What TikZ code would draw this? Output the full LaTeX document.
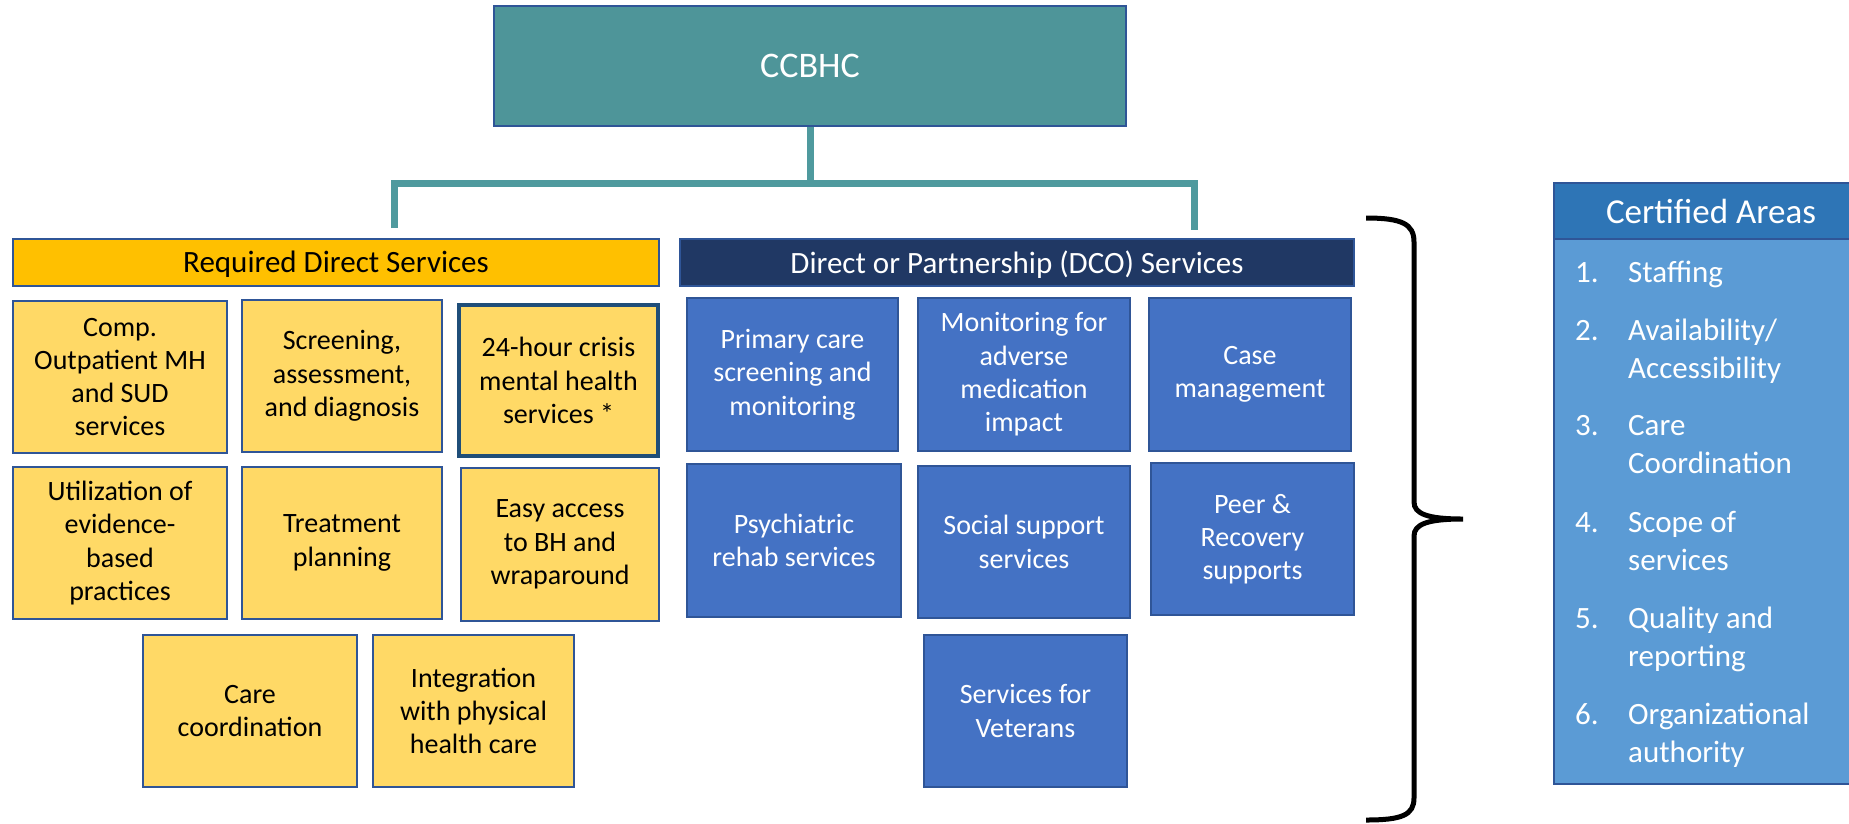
\documentclass[tikz,border=0pt]{standalone}
\usepackage{fontspec}
\setmainfont{Carlito}
\newcommand\svcfont{\fontsize{28}{33.3}\selectfont}
\newcommand\hdrfont{\fontsize{31}{36}\selectfont}
\newcommand\topfont{\fontsize{36}{42}\selectfont}
\newcommand\certhfont{\fontsize{35}{40}\selectfont}
\newcommand\certlfont{\fontsize{31}{38}\selectfont}
\definecolor{teal}{HTML}{4E9599}
\definecolor{tealline}{HTML}{4F9A9E}
\definecolor{edgeblue}{HTML}{2F5597}
\definecolor{darkedge}{HTML}{1F4E79}
\definecolor{gold}{HTML}{FFC000}
\definecolor{paleyellow}{HTML}{FFD966}
\definecolor{navy}{HTML}{203864}
\definecolor{midblue}{HTML}{4472C4}
\definecolor{certhead}{HTML}{2E75B6}
\definecolor{certbody}{HTML}{5B9BD5}
\begin{document}
\begin{tikzpicture}[x=1pt,y=-1pt,
  box/.style={draw=edgeblue, line width=2.5pt, inner sep=0pt, align=center, font=\svcfont},
  ybox/.style={box, fill=paleyellow, text=black, minimum width=#1},
  bbox/.style={box, fill=midblue, text=white, minimum width=#1},
  hdr/.style={draw=edgeblue, line width=2pt, inner sep=0pt, font=\hdrfont, minimum height=47pt, text depth=1pt},
  conn/.style={draw=tealline, line width=7pt},
  brace/.style={draw=black, line width=5pt},
  listnum/.style={anchor=base west, inner sep=0pt, text=white, font=\certlfont},
  listtxt/.style={anchor=base west, inner sep=0pt, text=white, font=\certlfont}]
\useasboundingbox (0,0) rectangle (1849,823);

% top box
\node[draw=edgeblue, line width=2.5pt, fill=teal, text=white, font=\topfont,
      minimum width=632pt, minimum height=120pt, inner sep=0pt] (ccbhc) at (810,66) {CCBHC};

% section headers
\node[hdr, fill=gold, text=black, minimum width=646pt] (req) at (336,262.5) {Required Direct Services};
\node[hdr, fill=navy, text=white, minimum width=674pt] (dco) at (1017,262.5) {Direct or Partnership (DCO) Services};

% connectors from the top box to the two sections
\coordinate (barL) at (394,183);
\coordinate (barR) at (1194,183);
\coordinate (reqend) at (394,228);
\coordinate (dcoend) at (1194,230);
\draw[conn] (ccbhc.south) -- (ccbhc.south |- barL);
\draw[conn, line join=miter] (reqend) -- (barL) -- (barR) -- (dcoend);

% required direct services
\node[ybox=214pt, minimum height=152pt] (comp) at (120,377) {Comp.\\Outpatient MH\\and SUD\\services};
\node[ybox=200pt, minimum height=152pt] (screen) at (342,376) {Screening,\\assessment,\\and diagnosis};
\node[ybox=199pt, minimum height=151pt, draw=darkedge, line width=4pt] (crisis) at (558.5,380.5) {24-hour crisis\\mental health\\services *};
\node[ybox=214pt, minimum height=152pt] (util) at (120,543) {Utilization of\\evidence-\\based\\practices};
\node[ybox=200pt, minimum height=152pt] (treat) at (342,543) {Treatment\\planning};
\node[ybox=198pt, minimum height=153pt] (easy) at (560,544.5) {Easy access\\to BH and\\wraparound};
\node[ybox=214pt, minimum height=152pt] (care) at (250,711) {Care\\coordination};
\node[ybox=201pt, minimum height=152pt] (integ) at (473.5,711) {Integration\\with physical\\health care};

% direct or partnership services
\node[bbox=211pt, minimum height=153pt] (primary) at (792.5,374.5) {Primary care\\screening and\\monitoring};
\node[bbox=212pt, minimum height=153pt] (monitor) at (1024,374.5) {Monitoring for\\adverse\\medication\\impact};
\node[bbox=202pt, minimum height=153pt] (casemgmt) at (1250,374.5) {Case\\management};
\node[bbox=214pt, minimum height=153pt] (psych) at (794,540.5) {Psychiatric\\rehab services};
\node[bbox=212pt, minimum height=152pt] (social) at (1024,542) {Social support\\services};
\node[bbox=203pt, minimum height=152pt] (peer) at (1252.5,539) {Peer \&\\Recovery\\supports};
\node[bbox=203pt, minimum height=152pt] (veterans) at (1025.5,711) {Services for\\Veterans};

% brace grouping both sections
\draw[brace] (1366,218) .. controls (1402,218) and (1414,224) .. (1414,242)
  -- (1414,502) .. controls (1414,514) and (1428,519) .. (1463,519)
  .. controls (1428,519) and (1414,524) .. (1414,536)
  -- (1414,798) .. controls (1414,815) and (1402,820) .. (1366,820);

% certified areas panel
\node[draw=edgeblue, line width=2pt, fill=certbody, inner sep=0pt, anchor=north west,
      minimum width=302pt, minimum height=545pt] (certbox) at (1553,238) {};
\node[draw=edgeblue, line width=2pt, fill=certhead, inner sep=0pt, anchor=north west,
      minimum width=302pt, minimum height=56pt] (certhdr) at (1553,182) {};
\node[text=white, font=\certhfont, inner sep=0pt] (certtitle) at (1711,211) {Certified Areas};

\node[listnum] (n1) at (1575,282) {1.};
\node[listtxt] (t1) at (1628,282) {Staffing};
\node[listnum] (n2) at (1575,340) {2.};
\node[listtxt] (t2a) at (1628,340) {Availability/};
\node[listtxt] (t2b) at (1628,378) {Accessibility};
\node[listnum] (n3) at (1575,435) {3.};
\node[listtxt] (t3a) at (1628,435) {Care};
\node[listtxt] (t3b) at (1628,473) {Coordination};
\node[listnum] (n4) at (1575,532) {4.};
\node[listtxt] (t4a) at (1628,532) {Scope of};
\node[listtxt] (t4b) at (1628,570) {services};
\node[listnum] (n5) at (1575,628) {5.};
\node[listtxt] (t5a) at (1628,628) {Quality and};
\node[listtxt] (t5b) at (1628,666) {reporting};
\node[listnum] (n6) at (1575,724) {6.};
\node[listtxt] (t6a) at (1628,724) {Organizational};
\node[listtxt] (t6b) at (1628,762) {authority};
\end{tikzpicture}
\end{document}
